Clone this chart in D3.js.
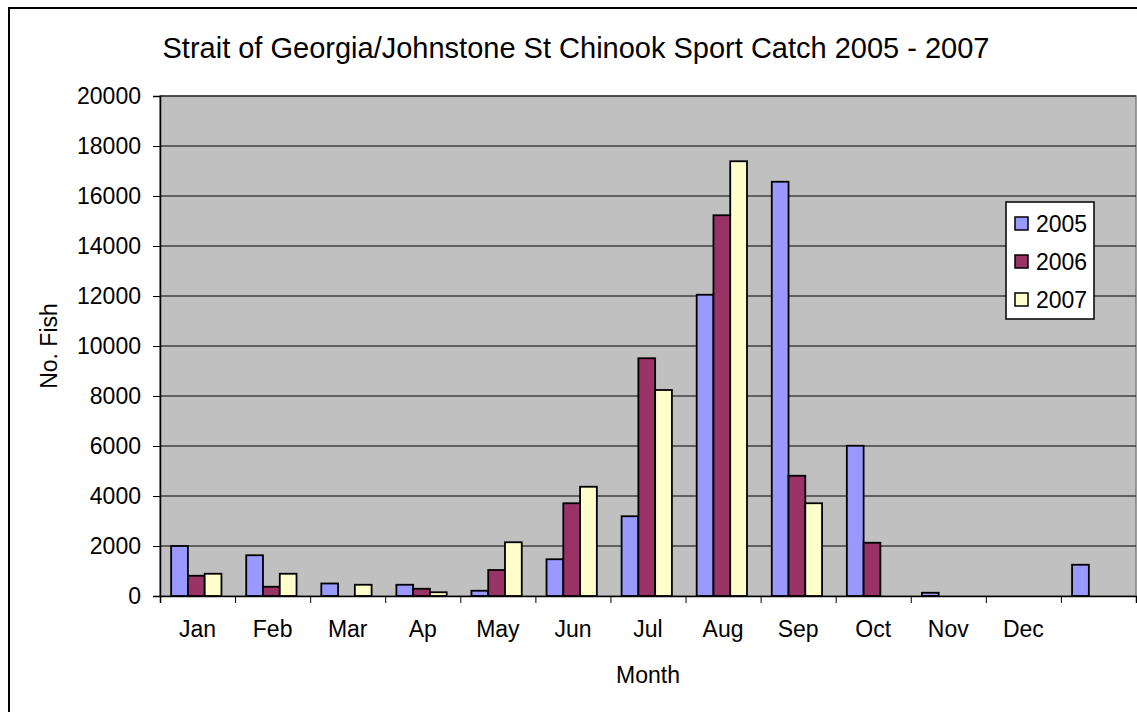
<!DOCTYPE html>
<html>
<head>
<meta charset="utf-8">
<script src="https://cdn.jsdelivr.net/npm/d3@7/dist/d3.min.js"></script>
<style>
  body { margin: 0; background: #fff; }
  svg { display: block; font-family: "Liberation Sans", Arial, sans-serif; }
</style>
</head>
<body>
<svg id="chart"></svg>
<script>
const months = ["Jan", "Feb", "Mar", "Ap", "May", "Jun", "Jul", "Aug", "Sep", "Oct", "Nov", "Dec", ""];
const years = ["2005", "2006", "2007"];
const catch2005 = [2000, 1630, 500, 450, 210, 1470, 3190, 12050, 16570, 6010, 130, 0, 1250];
const catch2006 = [810, 370, 0, 290, 1040, 3710, 9510, 15230, 4810, 2130, 0, 0, 0];
const catch2007 = [890, 890, 450, 150, 2150, 4370, 8240, 17390, 3710, 0, 0, 0, 0];
const yTicks = [0, 2000, 4000, 6000, 8000, 10000, 12000, 14000, 16000, 18000, 20000];
const colors = ["#9999FF", "#993366", "#FFFFCC"];

const W = 1137, H = 712;
const margin = { top: 96, right: 1, bottom: 116, left: 160 };
const width = W - margin.left - margin.right;
const height = H - margin.top - margin.bottom;

const root = d3.select("#chart").attr("width", W).attr("height", H);

// outer chart border (runs off the right and bottom edge)
root.append("rect")
    .attr("x", 9).attr("y", 8)
    .attr("width", W + 10).attr("height", H + 10)
    .attr("fill", "#fff").attr("stroke", "#000").attr("stroke-width", 2);

const svg = root.append("g").attr("transform", `translate(${margin.left},${margin.top})`);

const series = [catch2005, catch2006, catch2007];
const rows = months.map((m, i) => ({ month: m, vals: series.map((s, k) => ({ year: years[k], k, v: s[i] })) }));

const x0 = d3.scaleBand().domain(months).range([0, width]).padding(0);
const gap = x0.bandwidth() * 0.33;
const x1 = d3.scaleBand().domain(years).range([gap * 0.45, x0.bandwidth() - gap * 0.55]).padding(0);
const y = d3.scaleLinear().domain([0, 20000]).range([height, 0]);

// plot area
svg.append("rect")
    .attr("width", width).attr("height", height)
    .attr("fill", "#C0C0C0").attr("stroke", "#808080").attr("stroke-width", 1.5);

// gridlines
svg.append("g").selectAll("line")
    .data(yTicks.filter(d => d > 0))
    .join("line")
    .attr("x1", 0).attr("x2", width)
    .attr("y1", d => y(d)).attr("y2", d => y(d))
    .attr("stroke", "#000").attr("stroke-width", 1);

// bars
const groups = svg.append("g").selectAll("g")
    .data(rows)
    .join("g")
    .attr("transform", d => `translate(${x0(d.month)},0)`);

groups.selectAll("rect")
    .data(d => d.vals.filter(v => v.v > 0))
    .join("rect")
    .attr("x", d => x1(d.year))
    .attr("y", d => y(d.v))
    .attr("width", x1.bandwidth())
    .attr("height", d => height - y(d.v))
    .attr("fill", d => colors[d.k])
    .attr("stroke", "#000").attr("stroke-width", 1.8);

// y axis
const yAxis = svg.append("g")
    .call(d3.axisLeft(y).tickValues(yTicks).tickSize(7).tickPadding(12).tickFormat(d3.format("d")));
yAxis.select(".domain").attr("stroke", "#000").attr("stroke-width", 1.5);
yAxis.selectAll("text").attr("font-size", 23).attr("fill", "#000").attr("font-family", "Liberation Sans, Arial, sans-serif");

// x axis: ticks on category boundaries
const xEdge = d3.scaleLinear().domain([0, months.length]).range([0, width]);
const xAxis = svg.append("g")
    .attr("transform", `translate(0,${height})`)
    .call(d3.axisBottom(xEdge).tickValues(d3.range(months.length + 1)).tickSize(7).tickFormat(""));
xAxis.select(".domain").attr("stroke", "#000").attr("stroke-width", 1.5);

const xLabels = svg.append("g")
    .attr("transform", `translate(0,${height})`)
    .call(d3.axisBottom(x0).tickSize(0).tickPadding(25));
xLabels.select(".domain").remove();
xLabels.selectAll("text").attr("font-size", 23).attr("fill", "#000").attr("font-family", "Liberation Sans, Arial, sans-serif");

// axis titles
svg.append("text")
    .attr("x", width / 2).attr("y", height + 87)
    .attr("text-anchor", "middle")
    .attr("font-size", 23)
    .text("Month");

svg.append("text")
    .attr("transform", `translate(${-111},${height / 2}) rotate(-90)`)
    .attr("text-anchor", "middle")
    .attr("dy", "0.35em")
    .attr("font-size", 23)
    .text("No. Fish");

// title
root.append("text")
    .attr("x", 576).attr("y", 58)
    .attr("text-anchor", "middle")
    .attr("font-size", 29)
    .text("Strait of Georgia/Johnstone St Chinook Sport Catch 2005 - 2007");

// legend
const legend = root.append("g").attr("transform", "translate(1006,202)");
legend.append("rect")
    .attr("width", 88).attr("height", 117)
    .attr("fill", "#fff").attr("stroke", "#000").attr("stroke-width", 1.5);

const items = legend.selectAll(".item")
    .data(years)
    .join("g")
    .attr("class", "item")
    .attr("transform", (d, i) => `translate(9,${15 + i * 38})`);

items.append("rect")
    .attr("width", 13).attr("height", 13)
    .attr("fill", (d, i) => colors[i])
    .attr("stroke", "#000").attr("stroke-width", 1.5);

items.append("text")
    .attr("x", 21).attr("y", 7)
    .attr("dy", "0.35em")
    .attr("font-size", 23)
    .text(d => d);
</script>
</body>
</html>
